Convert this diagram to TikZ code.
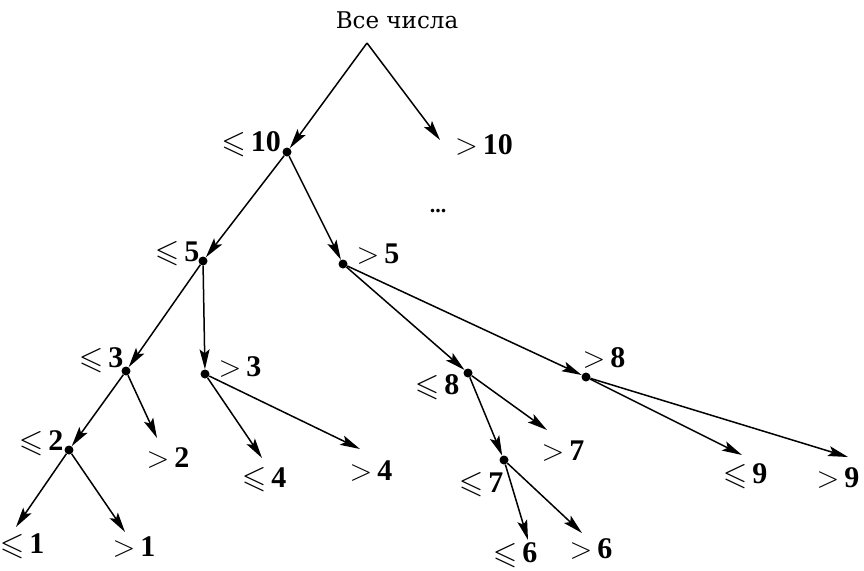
\documentclass[tikz,border=0pt]{standalone}
\usepackage{amssymb}
\usepackage{pdfrender}
\usepackage{fontspec}
\setmainfont{Liberation Serif}
\newfontfamily\rootfont{DejaVu Serif}
\usetikzlibrary{arrows.meta}
\newcommand{\myle}[1]{\raisebox{-0.5pt}{\scalebox{1.05}{$\leqslant$}}\hspace{5pt}\textbf{#1}}
\newcommand{\mygt}[1]{\scalebox{1.2}{$>$}\hspace{5pt}\textbf{#1}}
\tikzset{
  dotnode/.style={circle,fill=black,inner sep=0pt,minimum size=9pt},
  lab/.style={font=\fontsize{30}{34}\selectfont,inner sep=0pt},
  arr/.style={line width=1.5pt,-{Stealth[length=20pt,width=10pt,inset=4pt]}},
}
\begin{document}
\begin{tikzpicture}[x=1pt,y=-1pt]
\useasboundingbox (0,0) rectangle (864,570);
% root
\node[font=\rootfont\fontsize{23}{27}\selectfont,inner sep=0pt] (root) at (397,20) {\textpdfrender{TextRenderingMode=FillStroke,LineWidth=0.6pt}{Все числа}};
\coordinate (apex) at (367,43);
% dots
\node[dotnode] (d10) at (287,152) {};
\node[dotnode] (d5) at (203,261) {};
\node[dotnode] (g5) at (343,264) {};
\node[dotnode] (d3) at (126,371) {};
\node[dotnode] (g3) at (205,374) {};
\node[dotnode] (d2) at (69,450) {};
\node[dotnode] (d8) at (468,373) {};
\node[dotnode] (g8) at (586,377) {};
\node[dotnode] (d7) at (504,460) {};
% leaf coordinates
\coordinate (t10) at (440,140);
\coordinate (t2) at (157,438);
\coordinate (t1a) at (16,527);
\coordinate (t1b) at (125,532);
\coordinate (t4a) at (262,458);
\coordinate (t4b) at (360,449);
\coordinate (t7) at (547,430);
\coordinate (t6a) at (528,540);
\coordinate (t6b) at (582,533);
\coordinate (t9a) at (742,455);
\coordinate (t9b) at (848,457);
% labels
\node[lab] (l10) at (251,144) {\myle{10}};
\node[lab] (lg10) at (484,145) {\mygt{10}};
\node[lab,font=\fontsize{22}{26}\selectfont\bfseries] (ldots) at (438,211) {...};
\node[lab] (l5) at (177,254) {\myle{5}};
\node[lab] (lg5) at (378,254) {\mygt{5}};
\node[lab] (l3) at (101,360) {\myle{3}};
\node[lab] (lg3) at (240,367) {\mygt{3}};
\node[lab] (l8) at (437,387) {\myle{8}};
\node[lab] (lg8) at (604,358) {\mygt{8}};
\node[lab] (l2) at (41,443) {\myle{2}};
\node[lab] (lg2) at (168,458) {\mygt{2}};
\node[lab] (l4) at (264,480) {\myle{4}};
\node[lab] (lg4) at (371,471) {\mygt{4}};
\node[lab] (lg7) at (563,451) {\mygt{7}};
\node[lab] (l7) at (481,485) {\myle{7}};
\node[lab] (l9) at (745,476) {\myle{9}};
\node[lab] (lg9) at (838,478) {\mygt{9}};
\node[lab] (l1) at (22,546) {\myle{1}};
\node[lab] (lg1) at (134,547) {\mygt{1}};
\node[lab] (l6) at (515,555) {\myle{6}};
\node[lab] (lg6) at (591,549) {\mygt{6}};
% edges
\draw[arr] (apex) -- (d10);
\draw[arr] (apex) -- (t10);
\draw[arr] (d10) -- (d5);
\draw[arr] (d10) -- (g5);
\draw[arr] (d5) -- (d3);
\draw[arr] (d5) -- (g3);
\draw[arr] (g5) -- (d8);
\draw[arr] (g5) -- (g8);
\draw[arr] (d3) -- (d2);
\draw[arr] (d3) -- (t2);
\draw[arr] (d2) -- (t1a);
\draw[arr] (d2) -- (t1b);
\draw[arr] (g3) -- (t4a);
\draw[arr] (g3) -- (t4b);
\draw[arr] (d8) -- (d7);
\draw[arr] (d8) -- (t7);
\draw[arr] (d7) -- (t6a);
\draw[arr] (d7) -- (t6b);
\draw[arr] (g8) -- (t9a);
\draw[arr] (g8) -- (t9b);
\end{tikzpicture}
\end{document}
